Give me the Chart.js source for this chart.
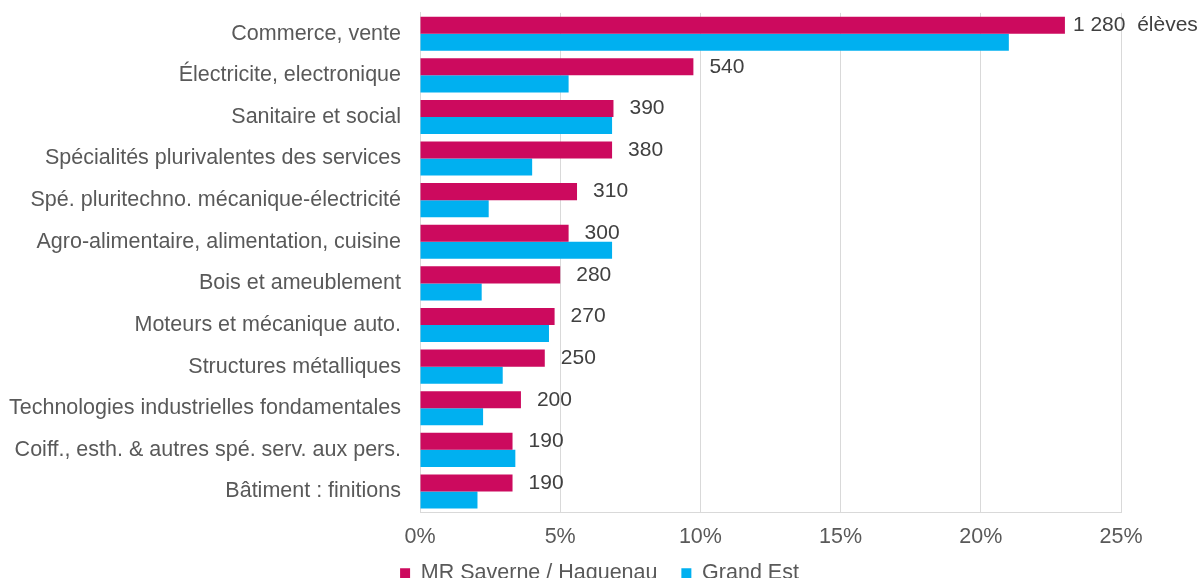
<!DOCTYPE html>
<html>
<head>
<meta charset="utf-8">
<script src="https://cdn.jsdelivr.net/npm/chart.js@4/dist/chart.umd.min.js"></script>
<style>
  html, body { margin: 0; padding: 0; background: #fff; overflow: hidden; }
  #wrap { width: 1199px; height: 594px; position: relative; }
</style>
</head>
<body>
<div id="wrap"><canvas id="chart"></canvas></div>
<script>
const categories = [
  'Commerce, vente',
  'Électricite, electronique',
  'Sanitaire et social',
  'Spécialités plurivalentes des services',
  'Spé. pluritechno. mécanique-électricité',
  'Agro-alimentaire, alimentation, cuisine',
  'Bois et ameublement',
  'Moteurs et mécanique auto.',
  'Structures métalliques',
  'Technologies industrielles fondamentales',
  'Coiff., esth. & autres spé. serv. aux pers.',
  'Bâtiment : finitions'
];
// share of pupils, in %
const saverneValues = [23.0, 9.75, 6.9, 6.85, 5.6, 5.3, 5.0, 4.8, 4.45, 3.6, 3.3, 3.3];
const grandEstValues = [21.0, 5.3, 6.85, 4.0, 2.45, 6.85, 2.2, 4.6, 2.95, 2.25, 3.4, 2.05];
const pupilLabels = ['1 280  élèves', '540', '390', '380', '310', '300', '280', '270', '250', '200', '190', '190'];
const xTicks = [0, 5, 10, 15, 20, 25];

const FONT = "'Liberation Sans', Arial, sans-serif";
const SIZE = 21.5;

const barLabels = {
  id: 'barLabels',
  afterDatasetsDraw(chart) {
    const ctx = chart.ctx;
    const meta = chart.getDatasetMeta(0);
    ctx.save();
    ctx.font = '21px ' + FONT;
    ctx.fillStyle = '#404040';
    ctx.textBaseline = 'middle';
    ctx.textAlign = 'left';
    meta.data.forEach(function(bar, i) {
      const gap = i === 0 ? 8 : 16;
      ctx.fillText(pupilLabels[i], bar.x + gap, bar.y);
    });
    ctx.restore();
  }
};

new Chart(document.getElementById('chart'), {
  type: 'bar',
  data: {
    labels: categories,
    datasets: [{
      label: 'MR Saverne / Haguenau',
      data: saverneValues,
      backgroundColor: '#CC0A5E',
      categoryPercentage: 0.82,
      barPercentage: 1.0
    }, {
      label: 'Grand Est',
      data: grandEstValues,
      backgroundColor: '#00B0F0',
      categoryPercentage: 0.82,
      barPercentage: 1.0
    }]
  },
  options: {
    indexAxis: 'y',
    responsive: true,
    maintainAspectRatio: false,
    animation: false,
    layout: { padding: 0 },
    scales: {
      x: {
        min: 0,
        max: 25,
        afterBuildTicks: function(scale) {
          scale.ticks = xTicks.map(function(v) { return { value: v }; });
        },
        grid: { color: '#D9D9D9', drawTicks: false },
        border: { color: '#D9D9D9' },
        ticks: {
          padding: 25,
          color: '#595959',
          font: { family: FONT, size: SIZE, lineHeight: 0.01 },
          callback: function(v) { return v + '%'; }
        }
      },
      y: {
        afterFit: function(scale) { scale.width = 420; },
        // invisible tick marks keep the labels off the axis line
        grid: { display: true, drawOnChartArea: false, drawTicks: true, tickLength: 19, color: 'rgba(0,0,0,0)' },
        border: { color: '#D9D9D9' },
        ticks: {
          padding: 0,
          color: '#595959',
          font: { family: FONT, size: SIZE }
        }
      },
      // empty right-hand axis: room for the data labels, legend stays centred
      yRight: {
        type: 'category',
        position: 'right',
        afterFit: function(scale) { scale.width = 78; },
        grid: { display: false },
        border: { display: false },
        ticks: { display: false }
      }
    },
    plugins: {
      legend: {
        position: 'bottom',
        labels: {
          boxWidth: 10,
          boxHeight: 10,
          padding: 0,
          color: '#595959',
          font: { family: FONT, size: SIZE },
          generateLabels: function(chart) {
            const items = Chart.defaults.plugins.legend.labels.generateLabels(chart);
            items[0].text = items[0].text + '    ';
            return items;
          }
        }
      },
      tooltip: { enabled: false }
    }
  },
  plugins: [barLabels]
});
</script>
</body>
</html>
